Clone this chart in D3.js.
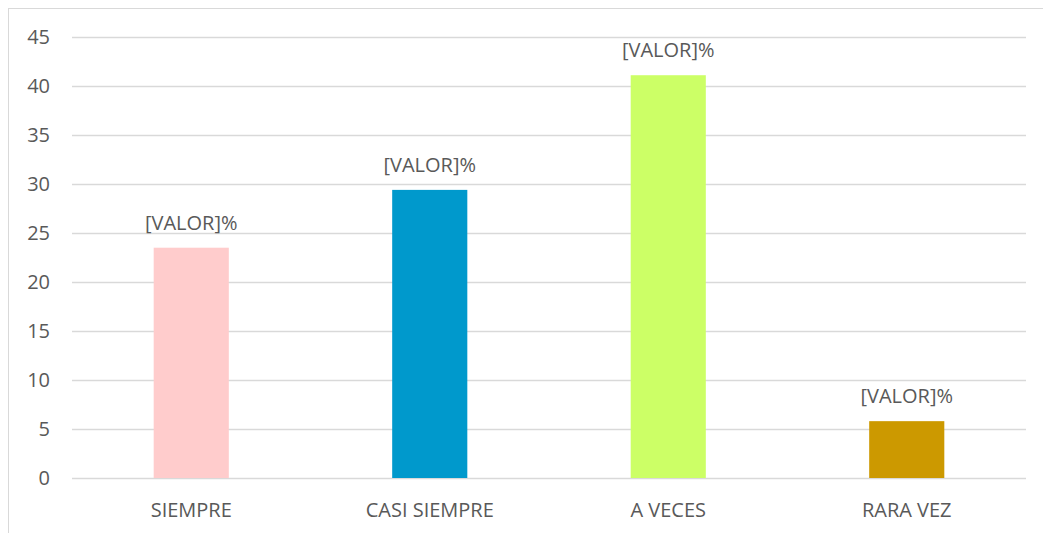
<!DOCTYPE html>
<html>
<head>
<meta charset="utf-8">
<script src="https://cdn.jsdelivr.net/npm/d3@7"></script>
<style>
  body { margin: 0; background: #fff; }
  text { font-family: "Open Sans", "Liberation Sans", sans-serif; fill: #595959; }
</style>
</head>
<body>
<svg></svg>
<script>
var categories = ["SIEMPRE", "CASI SIEMPRE", "A VECES", "RARA VEZ"];
var values = [23.5, 29.4, 41.1, 5.8];
var colors = ["#ffcccc", "#0099cc", "#ccff66", "#cc9900"];
var yTicks = [0, 5, 10, 15, 20, 25, 30, 35, 40, 45];
var labelText = "[VALOR]%";

var width = 1043, height = 533;
var margin = {top: 37, right: 17, bottom: 55, left: 72};
var innerW = width - margin.left - margin.right,
    innerH = height - margin.top - margin.bottom;

var svg = d3.select("svg")
    .attr("width", width)
    .attr("height", height);

// chart frame (only top and left edges visible in the reference)
svg.append("rect")
    .attr("x", 8.5).attr("y", 8.5)
    .attr("width", 1060).attr("height", 560)
    .attr("fill", "none")
    .attr("stroke", "#d9d9d9");

var g = svg.append("g")
    .attr("transform", "translate(" + margin.left + "," + margin.top + ")");

var x = d3.scaleBand()
    .domain(categories)
    .range([0, innerW])
    .paddingInner(0.685)
    .paddingOuter(0.3425);

var y = d3.scaleLinear()
    .domain([0, 45])
    .range([innerH, 0]);

// gridlines
g.selectAll(".grid")
    .data(yTicks)
    .enter().append("line")
    .attr("class", "grid")
    .attr("x1", 0).attr("x2", innerW)
    .attr("y1", function(d) { return Math.round(y(d)) + 0.5; })
    .attr("y2", function(d) { return Math.round(y(d)) + 0.5; })
    .attr("stroke", "#d9d9d9")
    .attr("stroke-width", 1.5);

// y tick labels
g.selectAll(".ytick")
    .data(yTicks)
    .enter().append("text")
    .attr("class", "ytick")
    .attr("x", -22)
    .attr("y", function(d) { return y(d); })
    .attr("dy", "0.35em")
    .attr("text-anchor", "end")
    .style("font-size", "20px")
    .text(function(d) { return d; });

// bars
g.selectAll(".bar")
    .data(values)
    .enter().append("rect")
    .attr("class", "bar")
    .attr("x", function(d, i) { return x(categories[i]); })
    .attr("width", x.bandwidth())
    .attr("y", function(d) { return y(d); })
    .attr("height", function(d) { return innerH - y(d); })
    .attr("fill", function(d, i) { return colors[i]; });

// value labels
g.selectAll(".vlabel")
    .data(values)
    .enter().append("text")
    .attr("class", "vlabel")
    .attr("x", function(d, i) { return x(categories[i]) + x.bandwidth() / 2; })
    .attr("y", function(d) { return y(d) - 18; })
    .attr("text-anchor", "middle")
    .style("font-size", "20px")
    .text(labelText);

// category labels
g.selectAll(".xlabel")
    .data(categories)
    .enter().append("text")
    .attr("class", "xlabel")
    .attr("x", function(d) { return x(d) + x.bandwidth() / 2; })
    .attr("y", innerH + 39)
    .attr("text-anchor", "middle")
    .style("font-size", "20px")
    .text(function(d) { return d; });
</script>
</body>
</html>
